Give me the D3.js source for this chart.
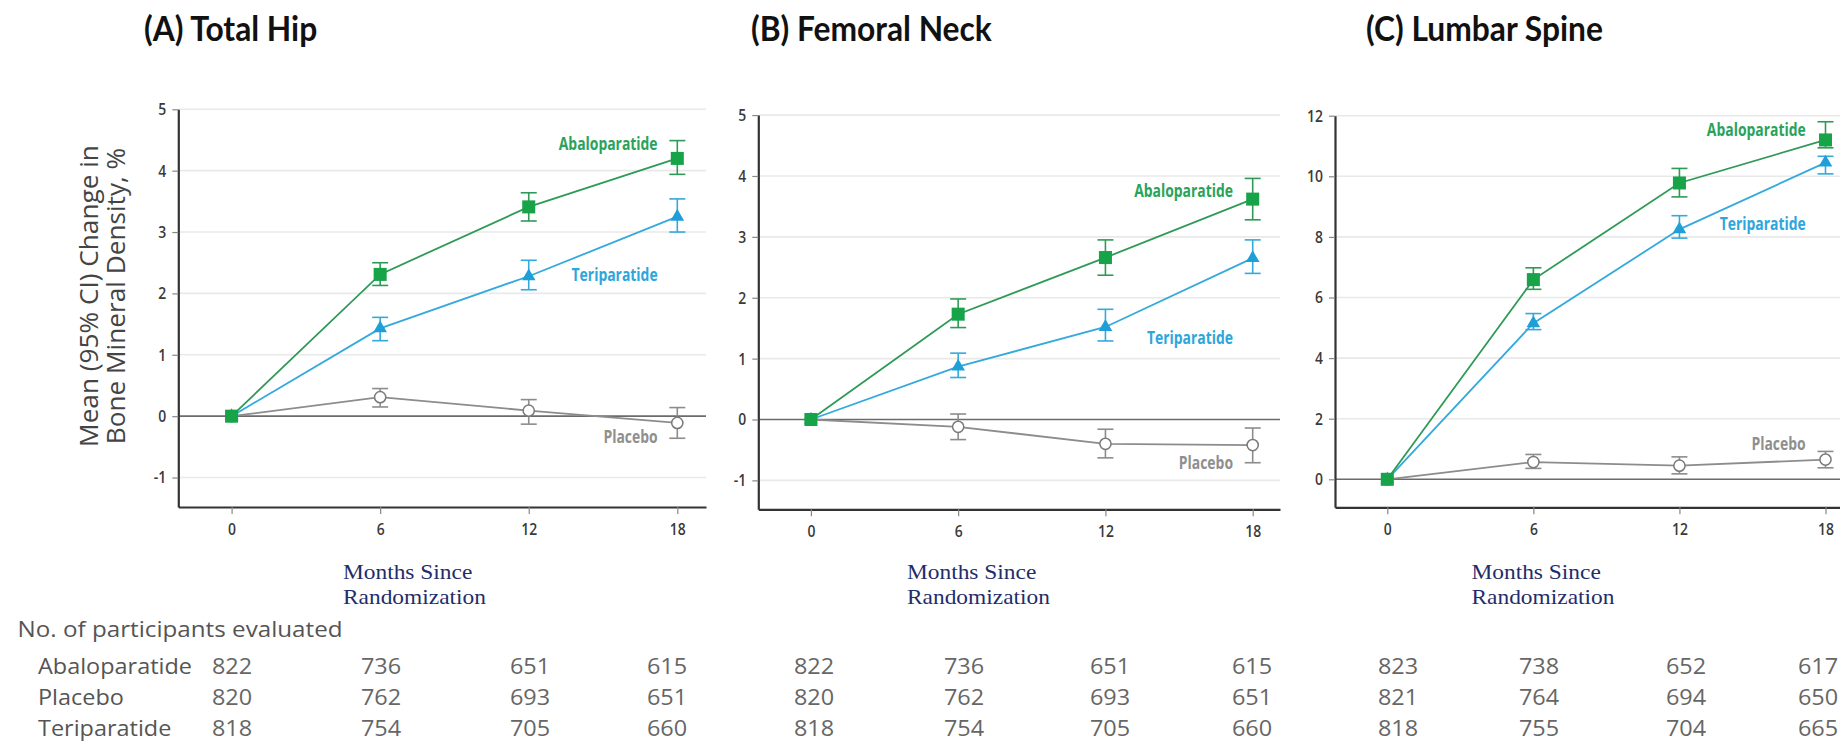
<!DOCTYPE html>
<html>
<head>
<meta charset="utf-8">
<script src="https://cdn.jsdelivr.net/npm/d3@7"></script>
<style>
  html, body { margin: 0; padding: 0; background: #fff; }
  svg { display: block; }
</style>
</head>
<body>
<svg id="chart" width="1840" height="746"></svg>
<script>
// ---------------- DATA ----------------
const months = [0, 6, 12, 18];
const panelTitles = ["(A) Total Hip", "(B) Femoral Neck", "(C) Lumbar Spine"];
const seriesNames = ["Abaloparatide", "Teriparatide", "Placebo"];
const tableRowNames = ["Abaloparatide", "Placebo", "Teriparatide"];
const yTicksHip = [-1, 0, 1, 2, 3, 4, 5];
const yTicksNeck = [-1, 0, 1, 2, 3, 4, 5];
const yTicksSpine = [0, 2, 4, 6, 8, 10, 12];

// (A) Total hip: mean, lower CI, upper CI
const hipAbalo = [0, 2.31, 3.41, 4.20];
const hipAbaloLo = [0, 2.13, 3.18, 3.94];
const hipAbaloHi = [0, 2.50, 3.64, 4.49];
const hipTeri = [0, 1.43, 2.28, 3.25];
const hipTeriLo = [0, 1.23, 2.06, 3.00];
const hipTeriHi = [0, 1.61, 2.54, 3.54];
const hipPlac = [0, 0.31, 0.09, -0.11];
const hipPlacLo = [0, 0.15, -0.13, -0.36];
const hipPlacHi = [0, 0.45, 0.27, 0.14];

// (B) Femoral neck
const neckAbalo = [0, 1.73, 2.66, 3.62];
const neckAbaloLo = [0, 1.51, 2.37, 3.28];
const neckAbaloHi = [0, 1.98, 2.95, 3.96];
const neckTeri = [0, 0.87, 1.52, 2.65];
const neckTeriLo = [0, 0.69, 1.29, 2.40];
const neckTeriHi = [0, 1.09, 1.81, 2.95];
const neckPlac = [0, -0.12, -0.40, -0.42];
const neckPlacLo = [0, -0.33, -0.63, -0.71];
const neckPlacHi = [0, 0.09, -0.16, -0.14];

// (C) Lumbar spine
const spineAbalo = [0, 6.59, 9.78, 11.20];
const spineAbaloLo = [0, 6.27, 9.32, 10.94];
const spineAbaloHi = [0, 6.98, 10.26, 11.80];
const spineTeri = [0, 5.15, 8.25, 10.45];
const spineTeriLo = [0, 4.94, 7.96, 10.08];
const spineTeriHi = [0, 5.47, 8.70, 10.66];
const spinePlac = [0, 0.57, 0.45, 0.65];
const spinePlacLo = [0, 0.36, 0.18, 0.38];
const spinePlacHi = [0, 0.82, 0.74, 0.92];

// Number of participants evaluated (rows: Abaloparatide, Placebo, Teriparatide)
const hipN = [[822, 736, 651, 615], [820, 762, 693, 651], [818, 754, 705, 660]];
const neckN = [[822, 736, 651, 615], [820, 762, 693, 651], [818, 754, 705, 660]];
const spineN = [[823, 738, 652, 617], [821, 764, 694, 650], [818, 755, 704, 665]];

// ---------------- LAYOUT / STYLE ----------------
const SANS = "'Open Sans', 'Noto Sans', sans-serif";
const colors = {
  Abaloparatide: { line: "#2f9a57", mark: "#17a348", text: "#2aa35a" },
  Teriparatide: { line: "#33a9dc", mark: "#1e9fd8", text: "#2ea6dc" },
  Placebo: { line: "#8c8c8c", mark: "#7a7a7a", text: "#8f8f8f" }
};

const panels = [
  { title: panelTitles[0], ticks: yTicksHip, N: hipN,
    series: { Abaloparatide: [hipAbalo, hipAbaloLo, hipAbaloHi], Teriparatide: [hipTeri, hipTeriLo, hipTeriHi], Placebo: [hipPlac, hipPlacLo, hipPlacHi] },
    left: 178.3, right: 706, x0: 231.6, x18: 677.3, bottom: 507, top: 109.3, yLo: -1.48, yHi: 5,
    titleX: 144, monthsX: 343, cols: [232, 381, 530, 667],
    lab: { Abaloparatide: [657.6, 4.45], Teriparatide: [657.6, 2.31], Placebo: [657.6, -0.33] } },
  { title: panelTitles[1], ticks: yTicksNeck, N: neckN,
    series: { Abaloparatide: [neckAbalo, neckAbaloLo, neckAbaloHi], Teriparatide: [neckTeri, neckTeriLo, neckTeriHi], Placebo: [neckPlac, neckPlacLo, neckPlacHi] },
    left: 758.3, right: 1280, x0: 810.9, x18: 1252.7, bottom: 509.3, top: 115.1, yLo: -1.475, yHi: 5,
    titleX: 751, monthsX: 907, cols: [814, 964, 1110, 1252],
    lab: { Abaloparatide: [1233, 3.77], Teriparatide: [1233, 1.35], Placebo: [1233, -0.70] } },
  { title: panelTitles[2], ticks: yTicksSpine, N: spineN,
    series: { Abaloparatide: [spineAbalo, spineAbaloLo, spineAbaloHi], Teriparatide: [spineTeri, spineTeriLo, spineTeriHi], Placebo: [spinePlac, spinePlacLo, spinePlacHi] },
    left: 1335, right: 1840, x0: 1387.3, x18: 1825.5, bottom: 507.3, top: 115.7, yLo: -0.924, yHi: 12,
    titleX: 1366, monthsX: 1471.5, cols: [1398, 1539, 1686, 1818],
    lab: { Abaloparatide: [1805.7, 11.54], Teriparatide: [1805.7, 8.46], Placebo: [1805.6, 1.18] } }
];

const svg = d3.select("#chart");

// measure a text's natural width
function measure(txt, family, size, weight) {
  const t = svg.append("text").attr("font-family", family).attr("font-size", size)
    .attr("font-weight", weight || 400).text(txt);
  const w = t.node().getComputedTextLength();
  t.remove();
  return w;
}
// horizontally compressed text placed at (x, y)
function condText(parent, x, y, txt, o) {
  const t = parent.append("text")
    .attr("transform", `translate(${x},${y}) scale(${o.sx},1)`)
    .attr("font-family", o.family).attr("font-size", o.size).attr("font-weight", o.weight || 400)
    .attr("fill", o.fill).attr("text-anchor", o.anchor || "start")
    .attr("dominant-baseline", "central").text(txt);
  return t;
}

const TITLE_FAM = "Lato, 'Open Sans', sans-serif";
const titleSize = 34;
const titleSX = 241 / measure(panelTitles[1], TITLE_FAM, titleSize, 700);
const labSize = 17;
const labSX = 99 / measure("Abaloparatide", SANS, labSize, 700);
const tabSize = 22.5;
const tabSX = 154 / measure("Abaloparatide", SANS, tabSize, 400);
const hdrSX = 325 / measure("No. of participants evaluated", SANS, tabSize, 400);
const SERIF = "'Liberation Serif','DejaVu Serif',serif";
const serifSize = 21;
const serifSX = 143 / measure("Randomization", SERIF, serifSize, 400);
const rowY = [665, 696, 727];

panels.forEach((p, pi) => {
  const g = svg.append("g");
  const x = d3.scaleLinear().domain([0, 18]).range([p.x0, p.x18]);
  const xAxisScale = d3.scaleLinear().domain([x.invert(p.left), x.invert(p.right)]).range([p.left, p.right]);
  const y = d3.scaleLinear().domain([p.yLo, p.yHi]).range([p.bottom, p.top]);

  // title
  condText(g, p.titleX, 28, p.title, { sx: titleSX, family: TITLE_FAM, size: titleSize, weight: 700, fill: "#111" });

  // gridlines
  g.selectAll("line.grid").data(p.ticks.filter(v => v !== 0)).join("line")
    .attr("x1", p.left).attr("x2", p.right)
    .attr("y1", d => y(d)).attr("y2", d => y(d))
    .attr("stroke", "#e9e9e9").attr("stroke-width", 1.6);
  g.append("line").attr("x1", p.left).attr("x2", p.right).attr("y1", y(0)).attr("y2", y(0))
    .attr("stroke", "#6b6b6b").attr("stroke-width", 1.6);

  // axes
  const fmt = d => String(d);
  const ya = g.append("g").attr("transform", `translate(${p.left},0)`)
    .call(d3.axisLeft(y).tickValues(p.ticks).tickSize(6).tickSizeOuter(0).tickPadding(5).tickFormat(fmt));
  const xa = g.append("g").attr("transform", `translate(0,${p.bottom})`)
    .call(d3.axisBottom(xAxisScale).tickValues(months).tickSize(7).tickSizeOuter(0).tickPadding(9).tickFormat(fmt));
  [ya, xa].forEach(a => {
    a.select(".domain").attr("stroke", "#333").attr("stroke-width", 2.2);
    a.selectAll(".tick line").attr("stroke", "#888").attr("stroke-width", 1.2);
    a.selectAll(".tick text").attr("font-family", SANS).attr("font-size", 17).attr("font-weight", 600)
      .attr("fill", "#3a3a3a").attr("transform", "scale(0.82,1)");
  });
  ya.selectAll(".tick text").attr("x", -12 / 0.82);

  // series: draw placebo, teri, abalo (abalo on top)
  ["Placebo", "Teriparatide", "Abaloparatide"].forEach(name => {
    const [mean, lo, hi] = p.series[name];
    const c = colors[name];
    const pts = months.map((m, i) => ({ m, v: mean[i], lo: lo[i], hi: hi[i] }));
    g.append("path").datum(pts)
      .attr("d", d3.line().x(d => x(d.m)).y(d => y(d.v)))
      .attr("fill", "none").attr("stroke", c.line).attr("stroke-width", 1.8);
    const eb = pts.filter(d => d.m > 0);
    const eg = g.append("g").attr("stroke", c.line).attr("stroke-width", 1.6).attr("fill", "none");
    eg.selectAll("line.v").data(eb).join("line")
      .attr("x1", d => x(d.m)).attr("x2", d => x(d.m)).attr("y1", d => y(d.lo)).attr("y2", d => y(d.hi));
    eg.selectAll("line.t").data(eb).join("line")
      .attr("x1", d => x(d.m) - 8).attr("x2", d => x(d.m) + 8).attr("y1", d => y(d.hi)).attr("y2", d => y(d.hi));
    eg.selectAll("line.b").data(eb).join("line")
      .attr("x1", d => x(d.m) - 8).attr("x2", d => x(d.m) + 8).attr("y1", d => y(d.lo)).attr("y2", d => y(d.lo));

    if (name === "Abaloparatide") {
      g.selectAll(null).data(pts).join("path")
        .attr("d", d3.symbol(d3.symbolSquare, 170))
        .attr("transform", d => `translate(${x(d.m)},${y(d.v)})`)
        .attr("fill", c.mark);
    } else if (name === "Teriparatide") {
      g.selectAll(null).data(pts).join("path")
        .attr("d", d3.symbol(d3.symbolTriangle, 80))
        .attr("transform", d => `translate(${x(d.m)},${y(d.v)})`)
        .attr("fill", c.mark);
    } else {
      g.selectAll(null).data(pts).join("circle")
        .attr("cx", d => x(d.m)).attr("cy", d => y(d.v)).attr("r", 5.6)
        .attr("fill", "#fff").attr("stroke", c.mark).attr("stroke-width", 1.5);
    }
    // label
    const lp = p.lab[name];
    condText(g, lp[0], y(lp[1]), name, { sx: labSX, family: SANS, size: labSize, weight: 700, fill: c.text, anchor: "end" });
  });

  // months since randomization
  condText(g, p.monthsX, 572, "Months Since", { sx: serifSX, family: SERIF, size: serifSize, fill: "#1f2d6b" });
  condText(g, p.monthsX, 597, "Randomization", { sx: serifSX, family: SERIF, size: serifSize, fill: "#1f2d6b" });

  // table numbers
  p.N.forEach((row, ri) => {
    row.forEach((d, i) => {
      condText(g, p.cols[i], rowY[ri], String(d), { sx: tabSX, family: SANS, size: tabSize, fill: "#666", anchor: "middle" });
    });
  });
});

// y-axis title
const yt = svg.append("text").attr("font-family", SANS).attr("fill", "#444").attr("font-size", 23)
  .attr("text-anchor", "middle").attr("transform", "translate(88,296) rotate(-90)");
yt.append("tspan").attr("x", 0).attr("y", 0).attr("dominant-baseline", "central").text("Mean (95% CI) Change in");
yt.append("tspan").attr("x", 0).attr("y", 27).attr("dominant-baseline", "central").text("Bone Mineral Density, %");
{
  const w = yt.select("tspan").node().getComputedTextLength();
  yt.attr("font-size", 23 * 302 / w);
}

// table header and row labels
condText(svg, 17.6, 628, "No. of participants evaluated", { sx: hdrSX, family: SANS, size: tabSize, fill: "#555" });
tableRowNames.forEach((nm, i) => {
  condText(svg, 38, rowY[i], nm, { sx: tabSX, family: SANS, size: tabSize, fill: "#555" });
});
</script>
</body>
</html>
